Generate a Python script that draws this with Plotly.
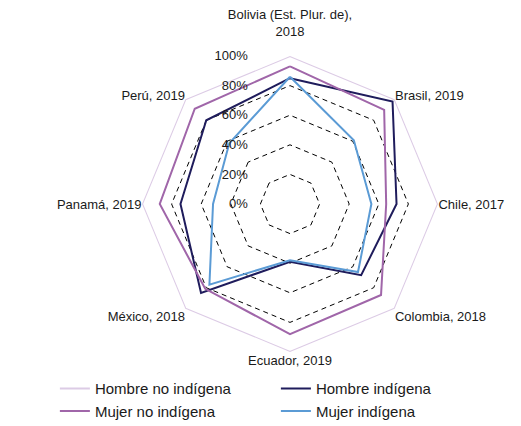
import plotly.graph_objects as go

# categories, clockwise from the top
paises = [
    "Bolivia (Est. Plur. de),<br>2018<br>\u00a0",
    "Brasil, 2019",
    "Chile, 2017",
    "Colombia, 2018",
    "Ecuador, 2019",
    "México, 2018",
    "Panamá, 2019",
    "Perú, 2019",
]

hombre_no_indigena = [100, 100, 100, 100, 100, 100, 100, 100]
hombre_indigena = [85, 98, 72, 68, 39, 85, 74, 80]
mujer_no_indigena = [93, 90, 65, 87, 88, 81, 88, 91]
mujer_indigena = [86, 61, 55, 65, 38, 77, 52, 58]

ticks = [0, 20, 40, 60, 80, 100]
tick_text = [f"{t}%" + "\u00a0" * 11 for t in ticks]

series = [
    ("Hombre no indígena", hombre_no_indigena, "#DCCBE5"),
    ("Hombre indígena", hombre_indigena, "#1F1C5C"),
    ("Mujer no indígena", mujer_no_indigena, "#A066A9"),
    ("Mujer indígena", mujer_indigena, "#5B9BD5"),
]


def main():
    fig = go.Figure()
    for name, vals, color in series:
        fig.add_trace(go.Scatterpolar(
            r=vals + vals[:1],
            theta=paises + paises[:1],
            mode="lines",
            name=name,
            line=dict(color=color, width=2),
        ))

    fig.update_layout(
        width=521,
        height=426,
        margin=dict(l=0, r=0, t=0, b=0),
        paper_bgcolor="white",
        font=dict(family="Liberation Sans, Arial", size=13, color="#1a1a1a"),
        polar=dict(
            domain=dict(x=[0.2572, 0.8253], y=[0.1925, 0.8873]),
            bgcolor="white",
            gridshape="linear",
            radialaxis=dict(
                range=[0, 100],
                tickvals=ticks,
                ticktext=tick_text,
                angle=90,
                tickangle=90,
                side="counterclockwise",
                showline=False,
                ticks="",
                gridcolor="black",
                gridwidth=1,
                griddash="5px,4px",
                tickfont=dict(size=13),
            ),
            angularaxis=dict(
                direction="clockwise",
                rotation=90,
                showline=False,
                showgrid=False,
                ticks="",
                tickfont=dict(size=13),
            ),
        ),
        legend=dict(
            orientation="h",
            x=0.09,
            xanchor="left",
            y=0.145,
            yanchor="top",
            entrywidth=176,
            entrywidthmode="pixels",
            font=dict(size=15),
            tracegroupgap=0,
        ),
    )

    fig.write_html("out.html")


if __name__ == "__main__":
    main()
